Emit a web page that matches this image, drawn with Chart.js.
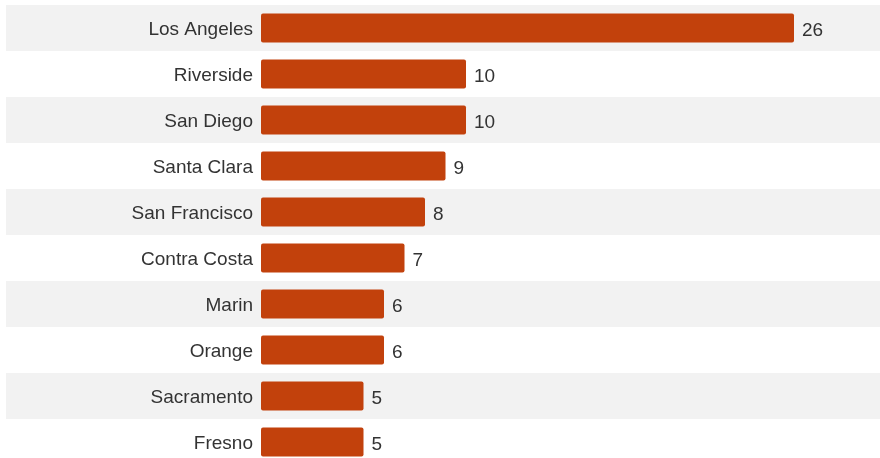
<!DOCTYPE html>
<html>
<head>
<meta charset="utf-8">
<script src="https://cdn.jsdelivr.net/npm/chart.js@4"></script>
<style>
  html, body { margin: 0; padding: 0; background: #fff; overflow: hidden; }
  #wrap { width: 880px; height: 468px; position: relative; }
</style>
</head>
<body>
<div id="wrap"><canvas id="chart"></canvas></div>
<script>
const counties = ['Los Angeles', 'Riverside', 'San Diego', 'Santa Clara', 'San Francisco',
                  'Contra Costa', 'Marin', 'Orange', 'Sacramento', 'Fresno'];
const counts = [26, 10, 10, 9, 8, 7, 6, 6, 5, 5];

const FONT = '"Liberation Sans", Arial, Helvetica, sans-serif';

// alternating grey bands behind every other row
const rowBands = {
    id: 'rowBands',
    beforeDraw(chart) {
        const { ctx, scales: { y } } = chart;
        const step = y.getPixelForValue(1) - y.getPixelForValue(0);
        ctx.save();
        ctx.fillStyle = '#f2f2f2';
        for (let i = 0; i < counties.length; i += 2) {
            const c = y.getPixelForValue(i);
            ctx.fillRect(6, c - step / 2, chart.width - 6, step);
        }
        ctx.restore();
    }
};

// value labels at the end of each bar
const valueLabels = {
    id: 'valueLabels',
    afterDatasetsDraw(chart) {
        const { ctx } = chart;
        const meta = chart.getDatasetMeta(0);
        ctx.save();
        ctx.font = '19px ' + FONT;
        ctx.fillStyle = '#333';
        ctx.textAlign = 'left';
        ctx.textBaseline = 'middle';
        meta.data.forEach((bar, i) => {
            ctx.fillText(String(counts[i]), bar.x + 8, bar.y + 2.5);
        });
        ctx.restore();
    }
};

new Chart(document.getElementById('chart'), {
    type: 'bar',
    data: {
        labels: counties,
        datasets: [{
            data: counts,
            backgroundColor: '#c2410c',
            borderRadius: 2,
            borderSkipped: false,
            barPercentage: 0.63,
            categoryPercentage: 1
        }]
    },
    options: {
        indexAxis: 'y',
        responsive: true,
        maintainAspectRatio: false,
        animation: false,
        layout: { padding: { top: 5, right: 4, bottom: 3, left: 0 } },
        plugins: {
            legend: { display: false },
            tooltip: { enabled: false }
        },
        scales: {
            x: {
                display: false,
                min: 0,
                max: 30
            },
            y: {
                grid: { display: false },
                border: { display: false },
                afterFit(scale) {
                    scale.width = 261;
                    scale.paddingTop = 0;
                    scale.paddingBottom = 0;
                },
                ticks: {
                    color: '#333',
                    padding: 0,
                    labelOffset: 2,
                    font: { size: 19, family: FONT }
                }
            }
        }
    },
    plugins: [rowBands, valueLabels]
});
</script>
</body>
</html>
